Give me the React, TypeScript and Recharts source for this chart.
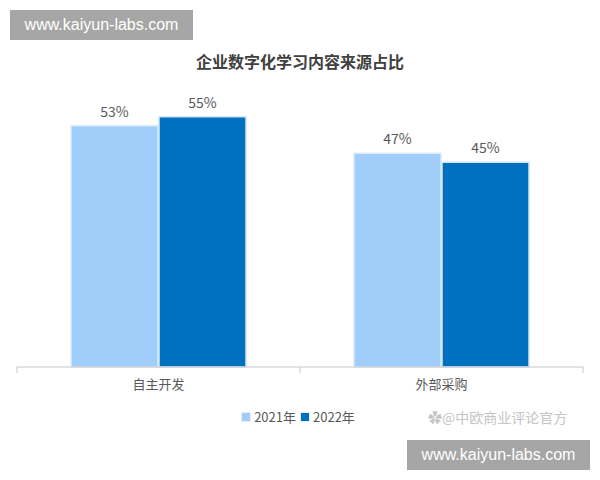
import React from 'react';
import { BarChart, Bar, XAxis, YAxis, LabelList, Legend } from 'recharts';

const categories = ['自主开发', '外部采购'];
const series2021 = [53, 47];
const series2022 = [55, 45];
const seriesNames = ['2021年', '2022年'];
const title = '企业数字化学习内容来源占比';

const data = categories.map((c, i) => ({ name: c, y2021: series2021[i], y2022: series2022[i] }));

const FONT = '"Noto Sans CJK SC", "Noto Sans", sans-serif';
const LIGHT = '#A0CDFA';
const DARK = '#0070C0';

const CustomTick = (props: any) => {
  const { x, y, payload, index } = props;
  const half = payload && typeof payload.offset === 'number' && payload.offset > 0 ? payload.offset : 141.5;
  return (
    <g>
      <line x1={x - half} y1={y - 8} x2={x - half} y2={y - 2} stroke="#c8c8c8" />
      {index === categories.length - 1 && (
        <line x1={x + half} y1={y - 8} x2={x + half} y2={y - 2} stroke="#c8c8c8" />
      )}
      <text x={x} y={y + 14} textAnchor="middle" fill="#595959" fontSize={13} fontFamily={FONT}>
        {payload.value}
      </text>
    </g>
  );
};

const LegendContent = () => (
  <div style={{ display: 'flex', justifyContent: 'center', fontFamily: FONT, fontSize: 13, color: '#595959' }}>
    {[LIGHT, DARK].map((c, i) => (
      <span key={i} style={{ display: 'flex', alignItems: 'center', marginRight: 4 }}>
        <span style={{ display: 'inline-block', width: 8, height: 8, background: c, border: '1px solid #e6eef6', marginRight: 3 }} />
        {seriesNames[i]}
      </span>
    ))}
  </div>
);

export default function App() {
  return (
    <div style={{ position: 'fixed', left: 0, top: 0, width: 600, height: 480, background: '#fff' }}>
      <BarChart
        width={600}
        height={480}
        data={data}
        margin={{ top: 94, right: 17, bottom: 83, left: 17 }}
        barCategoryGap={54}
        barGap={1}
      >
        <text x={300} y={68} textAnchor="middle" fontSize={16} fontWeight="bold" fill="#404040" fontFamily={FONT}>
          {title}
        </text>
        <XAxis
          dataKey="name"
          axisLine={{ stroke: '#c8c8c8' }}
          tickLine={false}
          tick={<CustomTick />}
          height={30}
          interval={0}
        />
        <YAxis hide domain={[0, 60]} />
        <Legend
          layout="horizontal"
          verticalAlign="middle"
          align="center"
          content={<LegendContent />}
          wrapperStyle={{ position: 'absolute', top: 407, left: 0, width: 600 }}
        />
        <Bar dataKey="y2021" name={seriesNames[0]} fill={LIGHT} stroke="#dcebf8" strokeWidth={1.5} isAnimationActive={false}>
          <LabelList dataKey="y2021" position="top" offset={9} formatter={(v: any) => `${v}%`} fill="#595959" fontSize={14} fontFamily={FONT} />
        </Bar>
        <Bar dataKey="y2022" name={seriesNames[1]} fill={DARK} stroke="#d3e6f5" strokeWidth={1.5} isAnimationActive={false}>
          <LabelList dataKey="y2022" position="top" offset={9} formatter={(v: any) => `${v}%`} fill="#595959" fontSize={14} fontFamily={FONT} />
        </Bar>
      </BarChart>
      <div style={{ position: 'absolute', left: 10, top: 10, width: 183, height: 30, background: '#a6a6a6', color: '#fff', fontFamily: 'Arial, "Liberation Sans", sans-serif', fontSize: 16, lineHeight: '30px', textAlign: 'center' }}>
        www.kaiyun-labs.com
      </div>
      <div style={{ position: 'absolute', left: 407, top: 440, width: 183, height: 30, background: '#a6a6a6', color: '#fff', fontFamily: 'Arial, "Liberation Sans", sans-serif', fontSize: 16, lineHeight: '30px', textAlign: 'center' }}>
        www.kaiyun-labs.com
      </div>
      <div style={{ position: 'absolute', left: 428, top: 407, color: '#c4c4c4', fontFamily: FONT, fontSize: 14, lineHeight: '20px', whiteSpace: 'nowrap' }}>
        ✿@中欧商业评论官方
      </div>
    </div>
  );
}
